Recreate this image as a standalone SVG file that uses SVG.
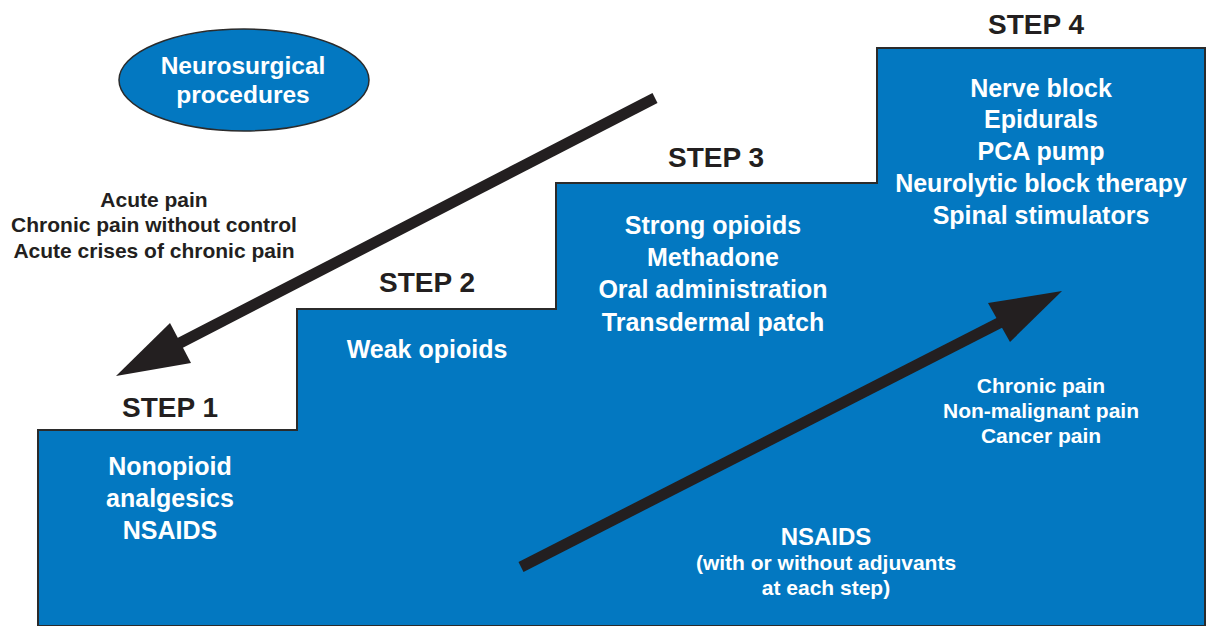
<svg xmlns="http://www.w3.org/2000/svg" width="1212" height="626" viewBox="0 0 1212 626">
<style>
text{font-family:"Liberation Sans",Arial,sans-serif;font-weight:bold;text-anchor:middle}
.w{fill:#ffffff}
.k{fill:#231f20}
.step{font-size:28px}
.big{font-size:25px}
.mid{font-size:21px}
.arrow{fill:#231f20;stroke:none}
</style>
<rect width="1212" height="626" fill="#ffffff"/>
<g id="stairs">
<path d="M38,430 H297 V309 H556 V183 H877 V48 H1205 V626 H38 Z" fill="#0378c1" stroke="#2b2b2b" stroke-width="2"/>
</g>
<g id="neurosurgical">
<ellipse cx="244" cy="80" rx="125" ry="51" fill="#0378c1" stroke="#2b2b2b" stroke-width="1.5"/>
<text class="w" x="243" y="74" font-size="24.5">Neurosurgical</text>
<text class="w" x="243" y="103" font-size="24.5">procedures</text>
</g>
<g id="acute-text">
<text class="k mid" x="154" y="207">Acute pain</text>
<text class="k mid" x="154" y="232">Chronic pain without control</text>
<text class="k mid" x="154" y="258">Acute crises of chronic pain</text>
</g>
<g id="step1">
<text class="k step" x="170" y="417">STEP 1</text>
<text class="w big" x="170" y="475">Nonopioid</text>
<text class="w big" x="170" y="507">analgesics</text>
<text class="w big" x="170" y="539">NSAIDS</text>
</g>
<g id="step2">
<text class="k step" x="427" y="292">STEP 2</text>
<text class="w big" x="427" y="358">Weak opioids</text>
</g>
<g id="step3">
<text class="k step" x="716" y="167">STEP 3</text>
<text class="w big" x="713" y="234">Strong opioids</text>
<text class="w big" x="713" y="266">Methadone</text>
<text class="w big" x="713" y="298">Oral administration</text>
<text class="w big" x="713" y="331">Transdermal patch</text>
</g>
<g id="step4">
<text class="k step" x="1036" y="34">STEP 4</text>
<text class="w big" x="1041" y="97">Nerve block</text>
<text class="w big" x="1041" y="128">Epidurals</text>
<text class="w big" x="1041" y="160">PCA pump</text>
<text class="w big" x="1041" y="192">Neurolytic block therapy</text>
<text class="w big" x="1041" y="224">Spinal stimulators</text>
</g>
<g id="chronic-text">
<text class="w mid" x="1041" y="393">Chronic pain</text>
<text class="w mid" x="1041" y="418">Non-malignant pain</text>
<text class="w mid" x="1041" y="443">Cancer pain</text>
</g>
<g id="nsaids-text">
<text class="w" x="826" y="545" font-size="24">NSAIDS</text>
<text class="w mid" x="826" y="570">(with or without adjuvants</text>
<text class="w mid" x="826" y="595">at each step)</text>
</g>
<g id="connectors">
<line x1="655" y1="98" x2="178" y2="344" stroke="#231f20" stroke-width="11"/>
<polygon class="arrow" points="116,376 170,323 191,363"/>
<line x1="521" y1="567" x2="1001" y2="322" stroke="#231f20" stroke-width="11"/>
<polygon class="arrow" points="1062,291 988,303 1010,342"/>
</g>
</svg>
